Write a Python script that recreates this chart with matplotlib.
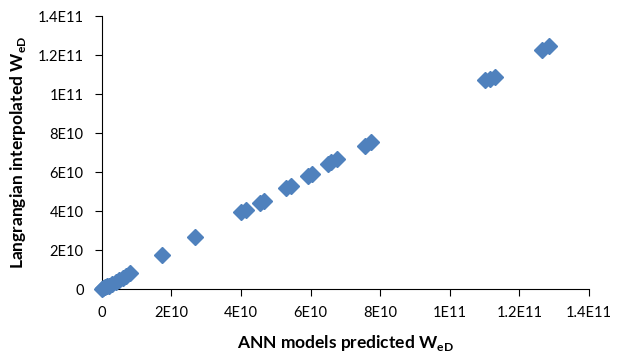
import matplotlib
matplotlib.use("Agg")
import matplotlib.pyplot as plt
from matplotlib.ticker import FixedLocator, FixedFormatter

plt.rcParams['font.family'] = ['Lato', 'DejaVu Sans']
plt.rcParams['mathtext.fontset'] = 'custom'
plt.rcParams['mathtext.rm'] = 'Lato'
plt.rcParams['mathtext.bf'] = 'Lato:bold'

# ANN predicted W_eD (x) vs Langrangian interpolated W_eD (y), units of 1E10
ann_pred = [0, 0.05, 0.1, 0.15, 0.2, 0.3, 0.4, 0.5, 0.6, 0.7, 0.8,
            1.73, 2.69, 4.0, 4.15, 4.55, 4.65, 5.3, 5.45, 5.92, 6.05,
            6.5, 6.6, 6.75, 7.55, 7.75, 11.0, 11.15, 11.3, 12.65, 12.85]
lagr_interp = [0, 0.05, 0.1, 0.15, 0.2, 0.3, 0.4, 0.5, 0.6, 0.7, 0.85,
               1.76, 2.67, 3.95, 4.08, 4.42, 4.52, 5.18, 5.32, 5.8, 5.92,
               6.4, 6.55, 6.7, 7.35, 7.55, 10.7, 10.8, 10.9, 12.25, 12.45]
scale = 1e10

tick_vals = [0, 2e10, 4e10, 6e10, 8e10, 1e11, 1.2e11, 1.4e11]
tick_labels = ['0', '2E10', '4E10', '6E10', '8E10', '1E11', '1.2E11', '1.4E11']

fig = plt.figure(figsize=(6.32, 3.56), dpi=100)
ax = fig.add_axes([0.161, 0.187, 0.771, 0.768])

x = [v * scale for v in ann_pred]
y = [v * scale for v in lagr_interp]
ax.plot(x, y, linestyle='none', marker='D', markersize=8.5,
        color='#4F81BD', markeredgecolor='#4F81BD', clip_on=False, zorder=3)

ax.set_xlim(0, 1.4e11)
ax.set_ylim(0, 1.4e11)
ax.xaxis.set_major_locator(FixedLocator(tick_vals))
ax.xaxis.set_major_formatter(FixedFormatter(tick_labels))
ax.yaxis.set_major_locator(FixedLocator(tick_vals))
ax.yaxis.set_major_formatter(FixedFormatter(tick_labels))

for s in ['top', 'right']:
    ax.spines[s].set_visible(False)
for s in ['left', 'bottom']:
    ax.spines[s].set_color('#000000')
    ax.spines[s].set_linewidth(0.8)

ax.tick_params(axis='both', direction='out', length=5, width=0.8,
               colors='#000000', labelsize=10.5, pad=7)
ax.tick_params(axis='y', pad=8)

ax.set_xlabel(r'ANN models predicted W$_{\mathbf{eD}}$', fontsize=12.5,
              fontweight='bold', labelpad=9)
ax.set_ylabel(r'Langrangian interpolated W$_{\mathbf{eD}}$', fontsize=12.5,
              fontweight='bold', labelpad=7)

fig.savefig('out.png', dpi=100)
